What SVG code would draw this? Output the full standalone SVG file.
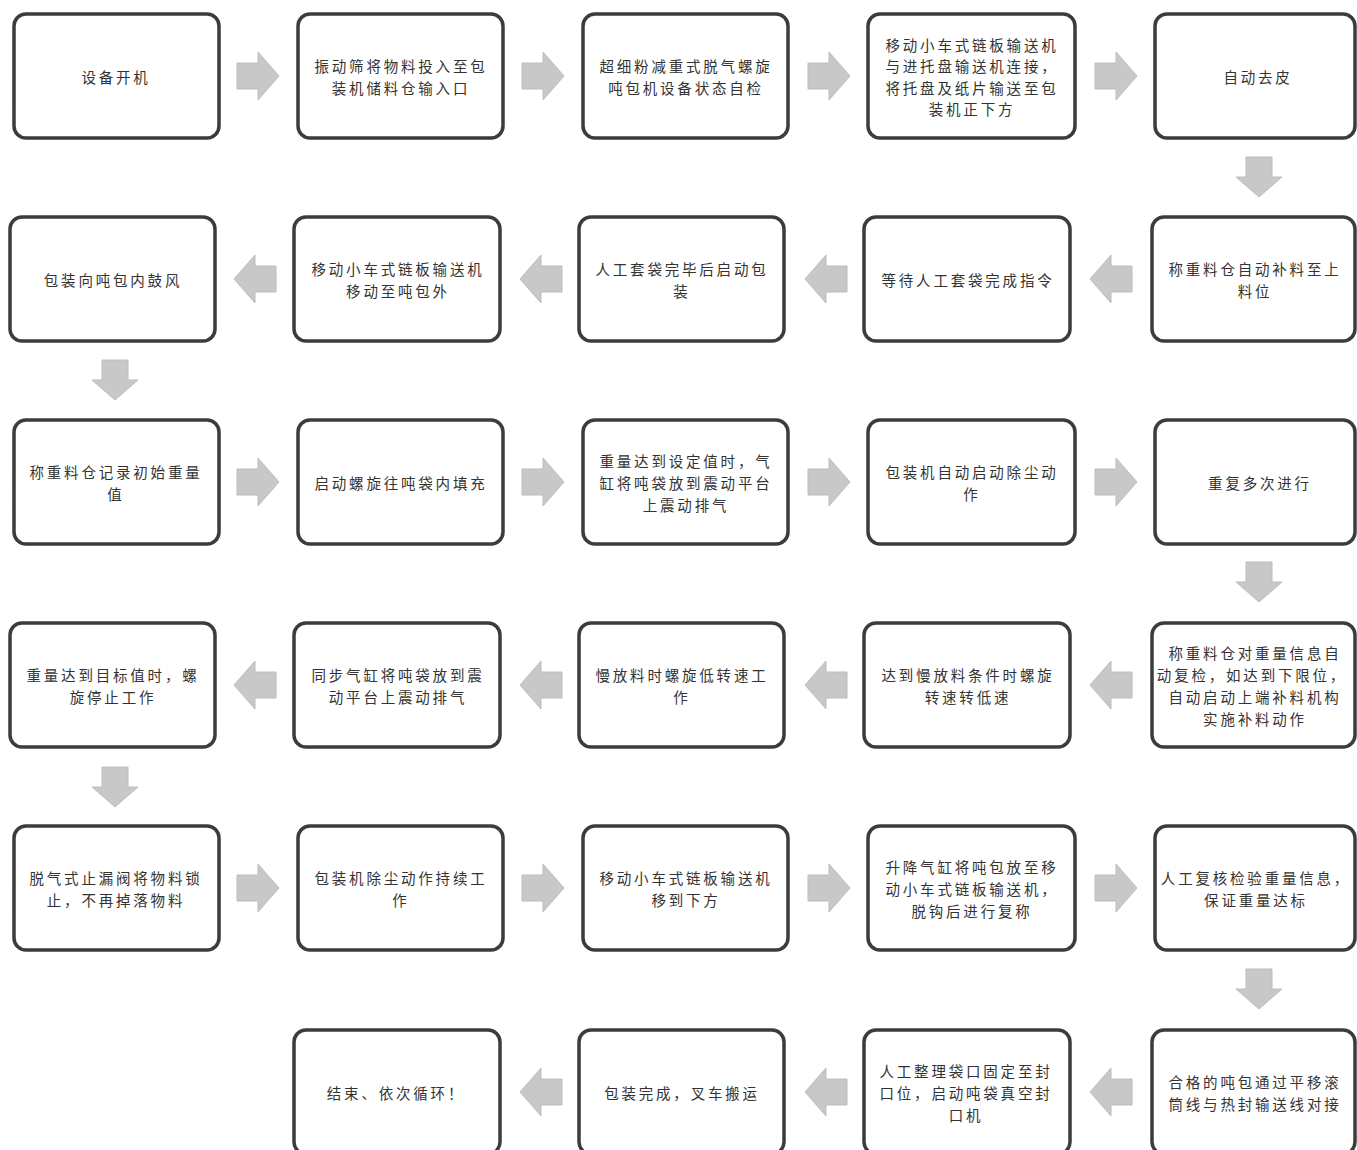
<svg xmlns="http://www.w3.org/2000/svg" width="1357" height="1150" viewBox="0 0 1357 1150">
<style>
.box{fill:#ffffff;stroke:#3c3c3c;stroke-width:3.5}
.t{font-family:"Noto Sans CJK SC","Noto Sans",sans-serif;font-size:14.5px;fill:#333333;text-anchor:middle;dominant-baseline:central;letter-spacing:2.8px}
.arr{fill:#c8c8c8;stroke:#bdbdbd;stroke-width:1}
</style>
<defs>
<path id="ar" d="M-21,-13 H0 V-24 L21,0 L0,24 V13 H-21 Z"/>
<path id="al" d="M21,-13 H0 V-24 L-21,0 L0,24 V13 H21 Z"/>
<path id="ad" d="M-13,-20 V0 H-23 L0,20 L23,0 H13 V-20 Z"/>
</defs>
<rect width="1357" height="1150" fill="#ffffff"/>

<g id="connectors">
<use href="#ar" class="arr" x="258" y="76"/>
<use href="#ar" class="arr" x="543" y="76"/>
<use href="#ar" class="arr" x="829" y="76"/>
<use href="#ar" class="arr" x="1116" y="76"/>
<use href="#ad" class="arr" x="1259" y="177"/>
<use href="#al" class="arr" x="1111" y="279"/>
<use href="#al" class="arr" x="826" y="279"/>
<use href="#al" class="arr" x="541" y="279"/>
<use href="#al" class="arr" x="255" y="279"/>
<use href="#ad" class="arr" x="115" y="380"/>
<use href="#ar" class="arr" x="258" y="482"/>
<use href="#ar" class="arr" x="543" y="482"/>
<use href="#ar" class="arr" x="829" y="482"/>
<use href="#ar" class="arr" x="1116" y="482"/>
<use href="#ad" class="arr" x="1259" y="582"/>
<use href="#al" class="arr" x="1111" y="685"/>
<use href="#al" class="arr" x="826" y="685"/>
<use href="#al" class="arr" x="541" y="685"/>
<use href="#al" class="arr" x="255" y="685"/>
<use href="#ad" class="arr" x="115" y="787"/>
<use href="#ar" class="arr" x="258" y="888"/>
<use href="#ar" class="arr" x="543" y="888"/>
<use href="#ar" class="arr" x="829" y="888"/>
<use href="#ar" class="arr" x="1116" y="888"/>
<use href="#ad" class="arr" x="1259" y="989"/>
<use href="#al" class="arr" x="1111" y="1092"/>
<use href="#al" class="arr" x="826" y="1092"/>
<use href="#al" class="arr" x="541" y="1092"/>
</g>

<!-- Row 1 -->
<g id="n1"><rect class="box" x="14" y="14" width="205" height="124" rx="12"/><text class="t" x="116" y="76">设备开机</text></g>
<g id="n2"><rect class="box" x="298" y="14" width="205" height="124" rx="12"/><text class="t"><tspan x="401" y="65">振动筛将物料投入至包</tspan><tspan x="401" y="87">装机储料仓输入口</tspan></text></g>
<g id="n3"><rect class="box" x="583" y="14" width="205" height="124" rx="12"/><text class="t"><tspan x="686" y="65">超细粉减重式脱气螺旋</tspan><tspan x="686" y="87">吨包机设备状态自检</tspan></text></g>
<g id="n4"><rect class="box" x="868" y="14" width="207" height="124" rx="12"/><text class="t"><tspan x="972" y="44">移动小车式链板输送机</tspan><tspan x="972" y="65">与进托盘输送机连接，</tspan><tspan x="972" y="87">将托盘及纸片输送至包</tspan><tspan x="972" y="108">装机正下方</tspan></text></g>
<g id="n5"><rect class="box" x="1155" y="14" width="200" height="124" rx="12"/><text class="t" x="1258" y="76">自动去皮</text></g>

<!-- Row 2 -->
<g id="n6"><rect class="box" x="1152" y="217" width="203" height="124" rx="12"/><text class="t"><tspan x="1255" y="268">称重料仓自动补料至上</tspan><tspan x="1255" y="290">料位</tspan></text></g>
<g id="n7"><rect class="box" x="864" y="217" width="206" height="124" rx="12"/><text class="t" x="968" y="279">等待人工套袋完成指令</text></g>
<g id="n8"><rect class="box" x="579" y="217" width="205" height="124" rx="12"/><text class="t"><tspan x="682" y="268">人工套袋完毕后启动包</tspan><tspan x="682" y="290">装</tspan></text></g>
<g id="n9"><rect class="box" x="294" y="217" width="206" height="124" rx="12"/><text class="t"><tspan x="398" y="268">移动小车式链板输送机</tspan><tspan x="398" y="290">移动至吨包外</tspan></text></g>
<g id="n10"><rect class="box" x="10" y="217" width="205" height="124" rx="12"/><text class="t" x="113" y="279">包装向吨包内鼓风</text></g>

<!-- Row 3 -->
<g id="n11"><rect class="box" x="14" y="420" width="205" height="124" rx="12"/><text class="t"><tspan x="116" y="471">称重料仓记录初始重量</tspan><tspan x="116" y="493">值</tspan></text></g>
<g id="n12"><rect class="box" x="298" y="420" width="205" height="124" rx="12"/><text class="t" x="401" y="482">启动螺旋往吨袋内填充</text></g>
<g id="n13"><rect class="box" x="583" y="420" width="205" height="124" rx="12"/><text class="t"><tspan x="686" y="460">重量达到设定值时，气</tspan><tspan x="686" y="482">缸将吨袋放到震动平台</tspan><tspan x="686" y="504">上震动排气</tspan></text></g>
<g id="n14"><rect class="box" x="868" y="420" width="207" height="124" rx="12"/><text class="t"><tspan x="972" y="471">包装机自动启动除尘动</tspan><tspan x="972" y="493">作</tspan></text></g>
<g id="n15"><rect class="box" x="1155" y="420" width="200" height="124" rx="12"/><text class="t" x="1260" y="482">重复多次进行</text></g>

<!-- Row 4 -->
<g id="n16"><rect class="box" x="1152" y="623" width="203" height="124" rx="12"/><text class="t"><tspan x="1255" y="652">称重料仓对重量信息自</tspan><tspan x="1252" y="674">动复检，如达到下限位，</tspan><tspan x="1255" y="696">自动启动上端补料机构</tspan><tspan x="1255" y="718">实施补料动作</tspan></text></g>
<g id="n17"><rect class="box" x="864" y="623" width="206" height="124" rx="12"/><text class="t"><tspan x="968" y="674">达到慢放料条件时螺旋</tspan><tspan x="968" y="696">转速转低速</tspan></text></g>
<g id="n18"><rect class="box" x="579" y="623" width="205" height="124" rx="12"/><text class="t"><tspan x="682" y="674">慢放料时螺旋低转速工</tspan><tspan x="682" y="696">作</tspan></text></g>
<g id="n19"><rect class="box" x="294" y="623" width="206" height="124" rx="12"/><text class="t"><tspan x="398" y="674">同步气缸将吨袋放到震</tspan><tspan x="398" y="696">动平台上震动排气</tspan></text></g>
<g id="n20"><rect class="box" x="10" y="623" width="205" height="124" rx="12"/><text class="t"><tspan x="113" y="674">重量达到目标值时，螺</tspan><tspan x="113" y="696">旋停止工作</tspan></text></g>

<!-- Row 5 -->
<g id="n21"><rect class="box" x="14" y="826" width="205" height="124" rx="12"/><text class="t"><tspan x="116" y="877">脱气式止漏阀将物料锁</tspan><tspan x="116" y="899">止，不再掉落物料</tspan></text></g>
<g id="n22"><rect class="box" x="298" y="826" width="205" height="124" rx="12"/><text class="t"><tspan x="401" y="877">包装机除尘动作持续工</tspan><tspan x="401" y="899">作</tspan></text></g>
<g id="n23"><rect class="box" x="583" y="826" width="205" height="124" rx="12"/><text class="t"><tspan x="686" y="877">移动小车式链板输送机</tspan><tspan x="686" y="899">移到下方</tspan></text></g>
<g id="n24"><rect class="box" x="868" y="826" width="207" height="124" rx="12"/><text class="t"><tspan x="972" y="866">升降气缸将吨包放至移</tspan><tspan x="972" y="888">动小车式链板输送机，</tspan><tspan x="972" y="910">脱钩后进行复称</tspan></text></g>
<g id="n25"><rect class="box" x="1155" y="826" width="200" height="124" rx="12"/><text class="t"><tspan x="1256" y="877">人工复核检验重量信息，</tspan><tspan x="1256" y="899">保证重量达标</tspan></text></g>

<!-- Row 6 -->
<g id="n26"><rect class="box" x="1152" y="1030" width="203" height="124" rx="12"/><text class="t"><tspan x="1255" y="1081">合格的吨包通过平移滚</tspan><tspan x="1255" y="1103">筒线与热封输送线对接</tspan></text></g>
<g id="n27"><rect class="box" x="864" y="1030" width="206" height="124" rx="12"/><text class="t"><tspan x="966" y="1070">人工整理袋口固定至封</tspan><tspan x="966" y="1092">口位，启动吨袋真空封</tspan><tspan x="966" y="1114">口机</tspan></text></g>
<g id="n28"><rect class="box" x="579" y="1030" width="205" height="124" rx="12"/><text class="t" x="682" y="1092">包装完成，叉车搬运</text></g>
<g id="n29"><rect class="box" x="294" y="1030" width="206" height="124" rx="12"/><text class="t" x="396" y="1092">结束、依次循环！</text></g>
</svg>
